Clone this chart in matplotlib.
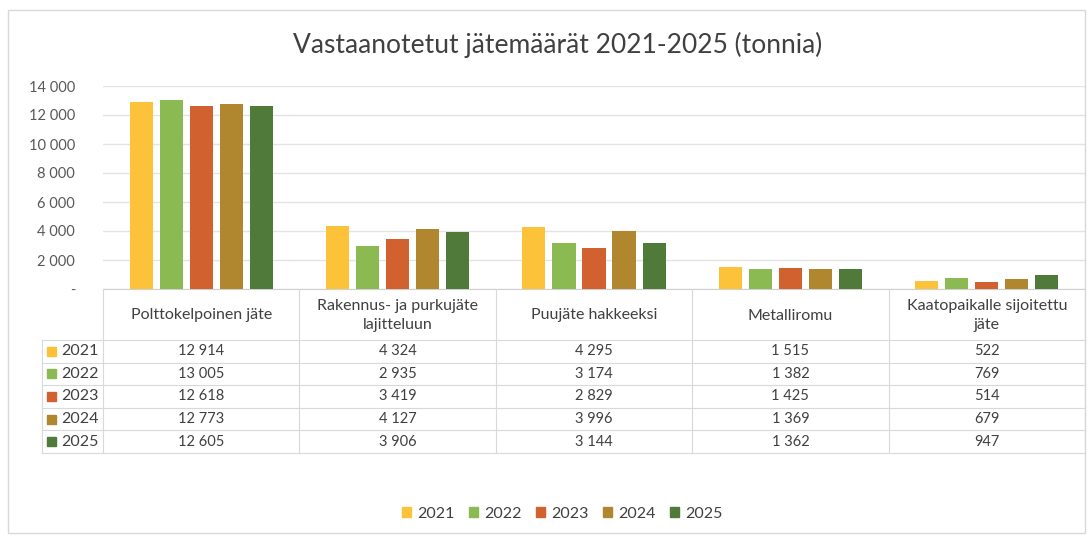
import numpy as np
import matplotlib.pyplot as plt
from matplotlib.patches import Rectangle

# Data
categories = ["Polttokelpoinen jäte", "Rakennus- ja purkujäte\nlajitteluun",
              "Puujäte hakkeeksi", "Metalliromu", "Kaatopaikalle sijoitettu\njäte"]
years = ["2021", "2022", "2023", "2024", "2025"]
v2021 = [12914, 4324, 4295, 1515, 522]
v2022 = [13005, 2935, 3174, 1382, 769]
v2023 = [12618, 3419, 2829, 1425, 514]
v2024 = [12773, 4127, 3996, 1369, 679]
v2025 = [12605, 3906, 3144, 1362, 947]
series = [v2021, v2022, v2023, v2024, v2025]
colors = ["#FBC23A", "#8CBA52", "#D1612E", "#B0862F", "#4F7A3A"]

yticks = [0, 2000, 4000, 6000, 8000, 10000, 12000, 14000]

plt.rcParams['font.family'] = ['Lato', 'DejaVu Sans']
text_col = "#404040"
grid_col = "#E3E3E3"

W, H = 1092, 536
fig = plt.figure(figsize=(W / 100, H / 100), dpi=100)

def fx(px):
    return px / W

def fy(py):
    return 1 - py / H

# chart border
fig.patches.append(Rectangle((fx(8), fy(533)), fx(1085) - fx(8), fy(10) - fy(533),
                             transform=fig.transFigure, fill=False,
                             edgecolor="#D9D9D9", linewidth=1))

# bar axes
left, right, top, zero = 103, 1085, 86, 289
ax = fig.add_axes([fx(left), fy(zero), fx(right) - fx(left), fy(top) - fy(zero)])
x = np.arange(len(categories))
pitch = 0.153
width = 0.118
for i, (vals, c) in enumerate(zip(series, colors)):
    ax.bar(x + (i - 2) * pitch, vals, width=width, color=c, zorder=3)

ax.set_xlim(-0.5, len(categories) - 0.5)
ax.set_ylim(0, 14000)
ax.set_yticks(yticks)
ax.set_yticklabels(["-" if t == 0 else f"{t:,}".replace(",", " ") for t in yticks])
ax.tick_params(axis="y", length=0, pad=20, labelsize=10.5, labelcolor="#595959")
ax.tick_params(axis="x", bottom=False, labelbottom=False)
ax.grid(axis="y", color=grid_col, linewidth=1, zorder=0)
for s in ["top", "right", "left"]:
    ax.spines[s].set_visible(False)
ax.spines["bottom"].set_color("#D0D0D0")

# data table
col_w = (right - left) / len(categories)
header_bot = 340
row_h = 22.6
table_left = 42
line_kw = dict(color="#D9D9D9", linewidth=0.8, transform=fig.transFigure)

# vertical lines
for j in range(len(categories) + 1):
    xp = left + j * col_w
    fig.add_artist(plt.Line2D([fx(xp), fx(xp)], [fy(zero), fy(header_bot + row_h * len(years))], **line_kw))
fig.add_artist(plt.Line2D([fx(table_left), fx(table_left)],
                          [fy(header_bot), fy(header_bot + row_h * len(years))], **line_kw))
# horizontal lines
for r in range(len(years) + 1):
    yp = header_bot + r * row_h
    fig.add_artist(plt.Line2D([fx(table_left), fx(right)], [fy(yp), fy(yp)], **line_kw))

# header text
for j, cat in enumerate(categories):
    fig.text(fx(left + (j + 0.5) * col_w), fy((zero + header_bot) / 2 + 1), cat,
             ha="center", va="center", fontsize=11.5, color=text_col, linespacing=1.45)

# rows
for r, (yr, vals, c) in enumerate(zip(years, series, colors)):
    yc = header_bot + (r + 0.5) * row_h
    fig.patches.append(Rectangle((fx(47), fy(yc + 4.5)), fx(9), fy(0) - fy(9),
                                 transform=fig.transFigure, color=c))
    fig.text(fx(61), fy(yc), yr, ha="left", va="center", fontsize=11.5, color=text_col)
    for j, v in enumerate(vals):
        fig.text(fx(left + (j + 0.5) * col_w), fy(yc), f"{v:,}".replace(",", " "),
                 ha="center", va="center", fontsize=10.5, color=text_col)

# title
fig.text(fx(558), fy(45), "Vastaanotetut jätemäärät 2021-2025 (tonnia)",
         ha="center", va="center", fontsize=19, color=text_col)

# legend
handles = [Rectangle((0, 0), 1, 1, color=c) for c in colors]
fig.legend(handles, years, loc="center", bbox_to_anchor=(fx(562), fy(514)), ncol=5,
           frameon=False, fontsize=11.5, handlelength=0.6, handleheight=0.6,
           handletextpad=0.35, columnspacing=0.9, labelcolor=text_col)

fig.savefig("out.png", dpi=100, facecolor="white")
